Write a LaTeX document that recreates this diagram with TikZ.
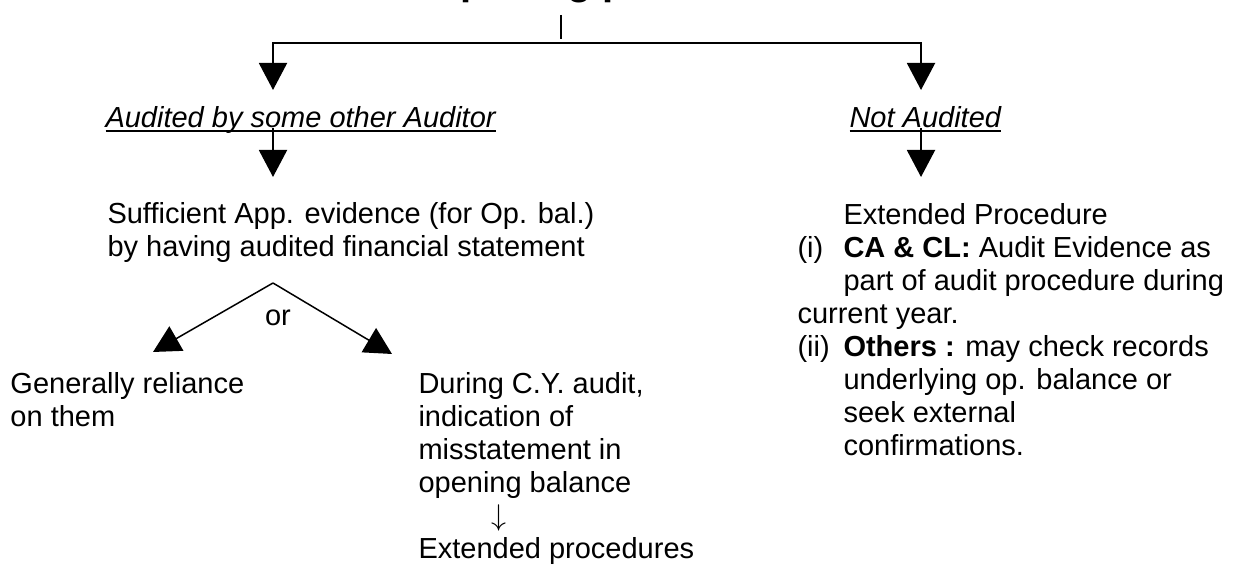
\documentclass[tikz,border=0pt]{standalone}
\usepackage{fontspec}
\setmainfont{Liberation Sans}
\newsavebox{\ulbox}
\newcommand{\ulinetext}[1]{\sbox{\ulbox}{#1}\rlap{\rule[-1.5pt]{\wd\ulbox}{0.6pt}}\usebox{\ulbox}}
\usetikzlibrary{arrows.meta}
\tikzset{bigtip/.tip={Triangle[length=10.8pt,width=11.2pt]}}

\begin{document}
\begin{tikzpicture}[x=0.4pt,y=-0.4pt,
    lbl/.style={inner sep=0pt,align=left,font=\fontsize{11.6}{13.2}\selectfont},
    link/.style={line width=0.8pt},
    fine/.style={line width=0.6pt}]
    \useasboundingbox (0,0) rectangle (1238,570);
    % heading, cut off by the page edge
    \node[inner sep=0pt,anchor=base west,font=\fontsize{16}{19}\selectfont\bfseries] (title) at (429,-5) {Opening procedures};
    \coordinate (tick) at (561,15);
    \coordinate (tickend) at (561,39);
    \coordinate (split) at (561,43);
    \coordinate (a1) at (273,90);
    \coordinate (b1) at (921,90);
    \draw[fine] (tick)--(tickend);
    \draw[link,bigtip-bigtip] (a1) |- (split) -| (b1);

    \node[lbl,anchor=base west] (aud) at (105,128) {\ulinetext{\itshape Audited by some other Auditor}};
    \node[lbl,anchor=base west] (notaud) at (849,128) {\ulinetext{\itshape Not Audited}};
    \coordinate (a2) at (273,177);
    \coordinate (b2) at (921,177);
    \draw[link,-bigtip] (aud.base -| a2)--(a2);
    \draw[link,-bigtip] (notaud.base -| b2)--(b2);

    % left branch (base = last line)
    \node[lbl,anchor=base west] (suff) at (107,257) {Sufficient App. evidence (for Op. bal.)\\by having audited financial statement};
    \coordinate (fork) at (273,283);
    \coordinate (c1) at (153,352);
    \coordinate (c2) at (392,354);
    \draw[fine,-bigtip] (fork)--(c1);
    \draw[fine,-bigtip] (fork)--(c2);
    \node[lbl] (or) at (278,318) {or};
    \node[lbl,anchor=base west] (rel) at (10,427) {Generally reliance\\on them};
    \node[lbl,anchor=base west] (cy) at (418,559) {During C.Y. audit,\\indication of\\misstatement in\\opening balance\\\hspace*{29.2pt}$\downarrow$\\Extended procedures};

    % right branch
    \node[lbl,anchor=base west] (ext) at (797,456) {\hspace*{18.4pt}Extended Procedure\\
      \makebox[18.4pt][l]{(i)}\textbf{CA \& CL:} Audit Evidence as\\
      \hspace*{18.4pt}part of audit procedure during\\
      current year.\\
      \makebox[18.4pt][l]{(ii)}\textbf{Others :} may check records\\
      \hspace*{18.4pt}underlying op. balance or\\
      \hspace*{18.4pt}seek external\\
      \hspace*{18.4pt}confirmations.};
\end{tikzpicture}
\end{document}
